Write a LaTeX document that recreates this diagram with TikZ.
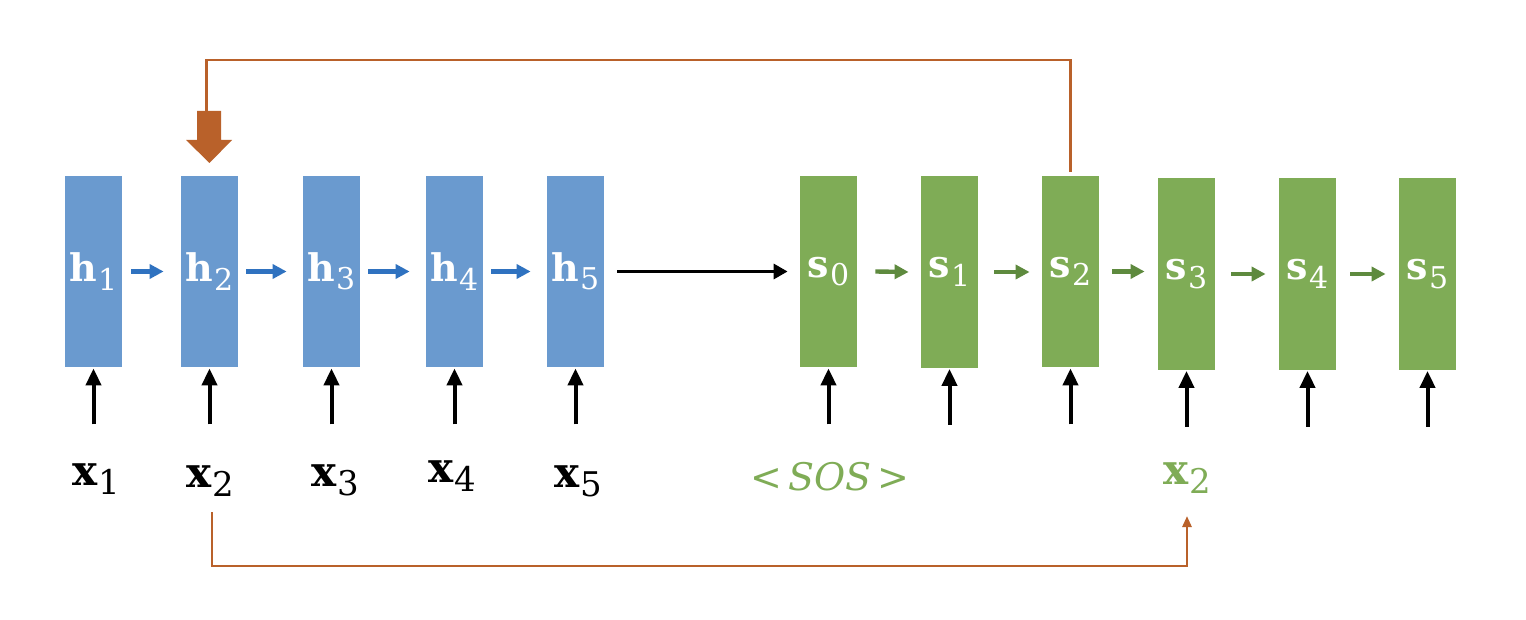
\documentclass[tikz,border=0pt]{standalone}
\usepackage{fontspec}
\setmainfont{DejaVu Serif}
\usetikzlibrary{arrows.meta}
\definecolor{boxblue}{HTML}{6A9ACF}
\definecolor{boxgreen}{HTML}{7FAC56}
\definecolor{arrblue}{HTML}{2F72C0}
\definecolor{arrgreen}{HTML}{5E8A3E}
\definecolor{orng}{HTML}{B9612A}
\definecolor{txtgreen}{HTML}{7FAC56}
\newcommand{\vsym}[3]{\textbf{#1}\kern0.02em\raisebox{-0.22em}{\fontsize{#3}{#3}\selectfont #2}}
\begin{document}
\begin{tikzpicture}[x=0.5pt,y=-0.5pt,
  cell/.style={rectangle, inner sep=0pt, minimum width=28.5pt, minimum height=95.5pt, text=white, font=\fontsize{19}{23}\selectfont},
  enc/.style={cell, fill=boxblue},
  dec/.style={cell, fill=boxgreen},
  lbl/.style={inner sep=0pt, anchor=base, font=\fontsize{21}{25}\selectfont},
  bluestep/.style={draw=arrblue, line width=2.2pt, -{Triangle[length=7pt,width=7pt]}},
  greenstep/.style={draw=arrgreen, line width=2.2pt, -{Triangle[length=7pt,width=7pt]}},
  inarrow/.style={draw=black, line width=2pt, -{Triangle[length=8.5pt,width=7.5pt]}},
  bigarrow/.style={draw=black, line width=1.6pt, -{Triangle[length=7pt,width=7.5pt]}},
  fb/.style={draw=orng, line width=1.1pt},
  fbarrow/.style={draw=orng, line width=1.3pt, -{Triangle[length=5.5pt,width=4.5pt]}}
]
\useasboundingbox[fill=white] (0,0) rectangle (1526,620);

% encoder cells
\node[enc] (h1) at (93.5,271.5) {\vsym{h}{1}{15}};
\node[enc] (h2) at (209.5,271.5) {\vsym{h}{2}{15}};
\node[enc] (h3) at (331.5,271.5) {\vsym{h}{3}{15}};
\node[enc] (h4) at (454.5,271.5) {\vsym{h}{4}{15}};
\node[enc] (h5) at (575.5,271.5) {\vsym{h}{5}{15}};

% decoder cells
\node[dec] (s0) at (828.5,271.5) {\vsym{s}{0}{15}};
\node[dec] (s1) at (949.5,272) {\vsym{s}{1}{15}};
\node[dec] (s2) at (1070.5,271.5) {\vsym{s}{2}{15}};
\node[dec] (s3) at (1186.5,274) {\vsym{s}{3}{15}};
\node[dec] (s4) at (1307.5,274) {\vsym{s}{4}{15}};
\node[dec] (s5) at (1427.5,274) {\vsym{s}{5}{15}};

% recurrent arrows
\draw[bluestep] ([xshift=4.5pt]h1.east) -- ([xshift=-8.5pt]h2.west);
\draw[bluestep] ([xshift=4pt]h2.east) -- ([xshift=-8pt]h3.west);
\draw[bluestep] ([xshift=4pt]h3.east) -- ([xshift=-8pt]h4.west);
\draw[bluestep] ([xshift=4pt]h4.east) -- ([xshift=-8pt]h5.west);
\draw[bigarrow] ([xshift=6.5pt]h5.east) -- ([xshift=-6pt]s0.west);
\draw[greenstep] ([xshift=9pt]s0.east) -- ([xshift=-6pt]s1.west);
\draw[greenstep] ([xshift=8pt]s1.east) -- ([xshift=-6pt]s2.west |- s1.east);
\draw[greenstep] ([xshift=6.5pt]s2.east) -- ([xshift=-6.5pt]s3.west |- s2.east);
\draw[greenstep] ([xshift=8pt]s3.east) -- ([xshift=-6.5pt]s4.west);
\draw[greenstep] ([xshift=7pt]s4.east) -- ([xshift=-6.5pt]s5.west);

% input arrows
\foreach \n in {h1,h2,h3,h4,h5,s0,s1,s2,s3,s4,s5}{
  \draw[inarrow] ([yshift=-28.5pt]\n.south) -- ([yshift=-0.5pt]\n.south);
}

% input labels
\node[lbl] (x1) at (96,485) {\vsym{x}{1}{17}};
\node[lbl] (x2) at (210,487) {\vsym{x}{2}{17}};
\node[lbl] (x3) at (335,486) {\vsym{x}{3}{17}};
\node[lbl] (x4) at (452,482) {\vsym{x}{4}{17}};
\node[lbl] (x5) at (578,487) {\vsym{x}{5}{17}};
\node[lbl, text=txtgreen, font=\fontsize{19}{23}\selectfont] (sos) at (830,490) {<\,\textit{SOS}\,>};
\node[lbl, text=txtgreen] (xout) at (1187,484) {\vsym{x}{2}{17}};

% attention block arrow into h2
\coordinate (blktop) at (206.5,111);
\fill[orng] (197,111) -- (221,111) -- (221,140) -- (232,140) -- (209.5,163) -- (186,140) -- (197,140) -- cycle;
\draw[fb] ([yshift=2pt]s2.north) |- (206.5,60) -- (blktop);

% copy connector from x2 to output x2
\coordinate (cpstart) at (212,512);
\coordinate (cpend) at (1187,516);
\draw[fbarrow] (cpstart) -- (212,566) -| (cpend);
\end{tikzpicture}
\end{document}
